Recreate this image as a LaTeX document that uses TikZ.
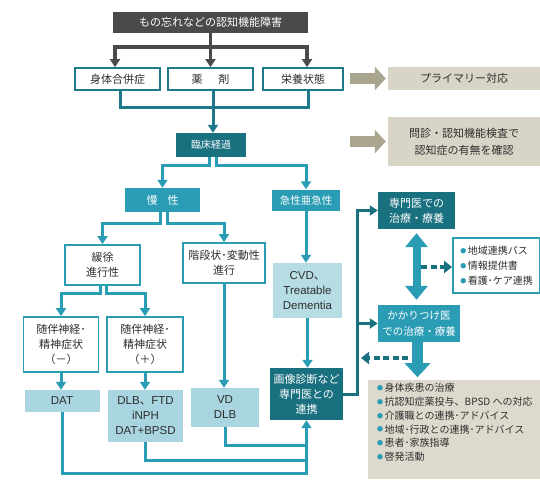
\documentclass[tikz,border=0pt]{standalone}
\usepackage{fontspec}
\usepackage{graphicx}
\setmainfont{Noto Sans CJK JP}
\newfontfamily\lat{Liberation Sans}
\usetikzlibrary{arrows.meta}
\definecolor{dgray}{HTML}{4A4A4C}
\definecolor{tdark}{HTML}{19707F}
\definecolor{tmid}{HTML}{2A9CB4}
\definecolor{tline}{HTML}{1E7A8A}
\definecolor{lblue}{HTML}{A8D5DF}
\definecolor{lblue2}{HTML}{B6DCE4}
\definecolor{olive}{HTML}{A9A58F}
\definecolor{beige}{HTML}{D8D5C7}
\definecolor{beige2}{HTML}{DDDACD}
\definecolor{txt}{HTML}{2E2E2E}
\newcommand{\mybul}{\textcolor{tmid}{\raisebox{0.12em}{\scalebox{0.6}{●}}}\hspace{1.5pt}}
\begin{document}
\begin{tikzpicture}[x=1pt,y=-1pt,
 box/.style={rectangle, inner sep=0pt, align=center, text=txt},
 wbox/.style={box, fill=white, draw=tline, line width=1.8pt, font=\fontsize{11}{15}\selectfont},
 wboxm/.style={wbox, draw=tmid},
 dbox/.style={box, fill=tdark, text=white, font=\fontsize{11}{15}\selectfont},
 mbox/.style={box, fill=tmid, text=white, font=\fontsize{11}{15}\selectfont},
 lbox/.style={box, fill=lblue, font=\lat\fontsize{11.5}{15}\selectfont},
 tip/.style={-{Triangle[width=10pt,length=8pt]}},
 gline/.style={draw=dgray, line width=3.5pt},
 tl/.style={draw=tline, line width=3pt},
 tl2/.style={draw=tmid, line width=3pt},
 dl/.style={draw=tdark, line width=3pt},
 dsh/.style={draw=tdark, line width=4pt, dash pattern=on 6pt off 3.5pt, -{Triangle[width=12pt,length=8pt]}},
 fat/.style={draw=tmid, line width=8pt},
]
\useasboundingbox (0,0) rectangle (540,479);
\fill[white] (0,0) rectangle (540,479);

% nodes
\node[box, fill=dgray, text=white, minimum width=195pt, minimum height=21pt, font=\fontsize{11}{13}\selectfont] (T) at (210.5,22.5) {もの忘れなどの認知機能障害};
\node[wbox, minimum width=85pt, minimum height=22pt] (B1) at (117.5,79) {身体合併症};
\node[wbox, minimum width=85pt, minimum height=22pt] (B2) at (210.5,79) {薬\hspace{16pt}剤};
\node[wbox, minimum width=80pt, minimum height=22pt] (B3) at (303,79) {栄養状態};
\node[box, fill=beige, minimum width=152pt, minimum height=23pt, font=\fontsize{11}{17}\selectfont] (P) at (464,78.5) {プライマリー対応};
\node[box, fill=beige, minimum width=152pt, minimum height=49pt, font=\fontsize{11}{17}\selectfont] (Q) at (464,141.5) {問診・認知機能検査で\\認知症の有無を確認};
\node[dbox, minimum width=70pt, minimum height=24pt, font=\fontsize{10}{12}\selectfont] (K) at (211,145) {臨床経過};
\node[mbox, minimum width=75pt, minimum height=24pt] (M) at (162.5,200) {慢\hspace{10pt}性};
\node[mbox, minimum width=68pt, minimum height=21pt, font=\fontsize{10.5}{15}\selectfont] (A) at (306,200) {急性亜急性};
\node[wboxm, minimum width=75pt, minimum height=40pt] (G1) at (102.5,265) {緩徐\\進行性};
\node[wboxm, minimum width=82pt, minimum height=40pt] (G2) at (224,263) {階段状･変動性\\進行};
\node[wboxm, minimum width=75pt, minimum height=55pt] (S1) at (61,344.5) {随伴神経･\\精神症状\\（－）};
\node[wboxm, minimum width=76pt, minimum height=55pt] (S2) at (145,344.5) {随伴神経･\\精神症状\\（＋）};
\node[lbox, minimum width=75pt, minimum height=22pt] (D1) at (62,401) {DAT};
\node[lbox, minimum width=75pt, minimum height=52pt] (D2) at (145.5,416) {DLB{\rmfamily 、}FTD\\iNPH\\DAT+BPSD};
\node[lbox, minimum width=68pt, minimum height=39pt] (D3) at (225,407.5) {VD\\DLB};
\node[lbox, fill=lblue2, minimum width=69pt, minimum height=55pt] (C) at (307.5,290.5) {CVD{\rmfamily 、}\\Treatable\\Dementia};
\node[dbox, minimum width=73pt, minimum height=52pt] (I) at (306.5,394) {画像診断など\\専門医との\\連携};
\node[dbox, minimum width=77pt, minimum height=37pt] (E) at (416.5,210.5) {専門医での\\治療・療養};
\node[mbox, minimum width=82pt, minimum height=37pt, font=\fontsize{10.5}{16}\selectfont] (F) at (419,323.5) {かかりつけ医\\での治療・療養};
\node[box, fill=white, draw=tmid, line width=1.8pt, minimum width=87pt, minimum height=55pt, align=left, font=\fontsize{10}{15}\selectfont] (L) at (496.5,265.5) {\mybul 地域連携パス\\\mybul 情報提供書\\\mybul 看護･ケア連携};
\node[box, fill=beige2, minimum width=172pt, minimum height=99pt] (N) at (454,429.5) {};
\node[box, anchor=west, align=left, font=\fontsize{10}{13.8}\selectfont] (Nt) at (377,422.5) {\mybul 身体疾患の治療\\\mybul 抗認知症薬投与、BPSD への対応\\\mybul 介護職との連携･アドバイス\\\mybul 地域･行政との連携･アドバイス\\\mybul 患者･家族指導\\\mybul 啓発活動};

% gray connectors at top
\draw[gline] (T.south) -- ++(0,14) coordinate (tj);
\draw[gline, tip] (tj) -| ([xshift=-2.5pt]B1.north);
\draw[gline, tip] (tj) -- (B2.north);
\draw[gline, tip] (tj) -| ([xshift=4pt]B3.north);

% teal below top boxes
\coordinate (h1) at (0,107);
\draw[tl] ([xshift=2.5pt]B1.south) -- ([xshift=2.5pt]B1.south |- h1) -| ([xshift=5pt]B3.south);
\draw[tl, tip] ([xshift=2.5pt]B2.south) -- ([xshift=2.5pt]B2.south |- K.north);

% olive arrows
\draw[line width=11pt, olive, -{Triangle[width=23pt,length=11pt]}] ([xshift=-38pt]P.west) -- ([xshift=-2pt]P.west);
\draw[line width=11pt, olive, -{Triangle[width=23pt,length=11pt]}] ([xshift=-38pt]Q.west) -- ([xshift=-2pt]Q.west);

% clinical course branches
\draw[tl2, tip] ([xshift=-2pt]K.south) -- ++(0,8) -| (M.north);
\draw[tl2, tip] ([xshift=5pt]K.south) -- ++(0,8) -| (A.north);
\draw[tl2, tip] ([xshift=-2.5pt]M.south) -- ++(0,11) -| (G1.north);
\draw[tl2, tip] ([xshift=4.5pt]M.south) -- ++(0,11) -| (G2.north);
\draw[tl2, tip] ([xshift=-2.5pt]G1.south) -- ++(0,8) -| (S1.north);
\draw[tl2, tip] ([xshift=3.5pt]G1.south) -- ++(0,8) -| (S2.north);
\draw[tl2, tip] (S1.south) -- (S1.south |- D1.north);
\draw[tl2, tip] (S2.south) -- (S2.south |- D2.north);
\draw[tl2, tip] (G2.south) -- (G2.south |- D3.north);
\draw[tl2, tip] (A.south) -- (A.south |- C.north);
\draw[tl2, tip] (C.south) -- (C.south |- I.north);

% bottom return lines
\coordinate (y473) at (0,473);
\coordinate (y460) at (0,460);
\coordinate (y445) at (0,445);
\draw[tl2] (D2.south) |- (I.south |- y460);
\draw[tl2] (D3.south) |- (I.south |- y445);
\draw[tl2, tip] (D1.south) |- (I.south |- y473) -- (I.south);

% right dark connectors
\coordinate (vx) at (357,0);
\draw[dl, tip] (I.east) -- (I.east -| vx) |- (E.west);
\draw[dl, tip] (vx |- F.west) -- (F.west);

% double arrow
\draw[fat, {Triangle[width=22pt,length=14pt]}-{Triangle[width=22pt,length=14pt]}] ([yshift=-4pt]E.south) -- ([yshift=5pt]E.south |- F.north);
% down arrow
\draw[draw=tmid, line width=11pt, -{Triangle[width=25pt,length=14pt]}] ([xshift=-1.5pt]F.south) -- ++(0,35);

% dashed arrows
\coordinate (d1) at (421,267);
\draw[dsh] (d1) -- (d1 -| L.west);
\coordinate (d2) at (408,358);
\coordinate (d3) at (361,358);
\draw[dsh] (d2) -- (d3);
\end{tikzpicture}
\end{document}
